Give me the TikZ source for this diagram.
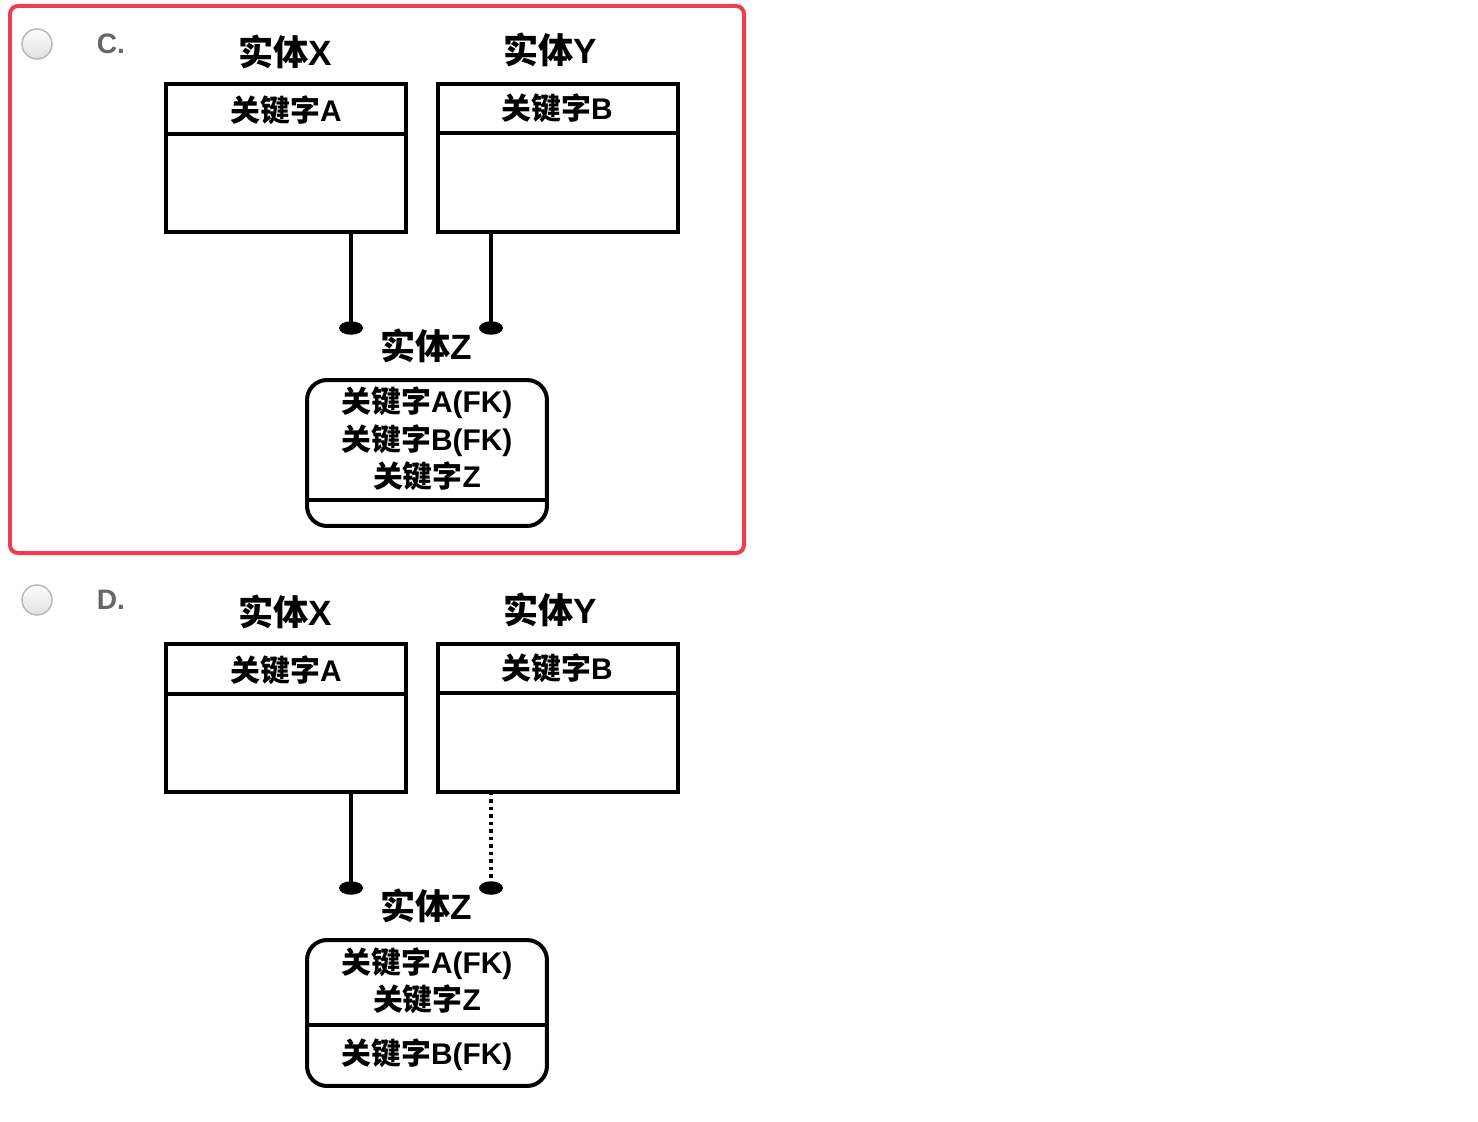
\documentclass[tikz,border=0pt]{standalone}
\usepackage{fontspec}
\setmainfont{Liberation Sans}
\newfontfamily\cjk{Noto Sans CJK SC}
\usetikzlibrary{shapes.geometric}
\definecolor{optred}{RGB}{238,62,78}
\definecolor{optgray}{RGB}{102,102,102}

\begin{document}
\begin{tikzpicture}[x=0.02cm,y=-0.02cm,inner sep=0pt,outer sep=0pt,line width=0.08cm,
entbox/.style={draw,rectangle,minimum width=4.8cm,minimum height=2.96cm},
depbox/.style={draw,rectangle,rounded corners=0.4cm,minimum width=4.8cm,minimum height=2.92cm},
enttitle/.style={font=\bfseries\fontsize{20}{22}\selectfont},
keytext/.style={font=\bfseries\fontsize{17}{19}\selectfont},
ztext/.style={font=\bfseries\fontsize{17}{21.3}\selectfont,align=center},
dotend/.style={fill,ellipse,minimum width=0.48cm,minimum height=0.27cm},
radio/.style={circle,draw=gray!55,line width=0.03cm,top color=white,bottom color=gray!25,minimum size=0.6cm},
optlabel/.style={font=\bfseries\fontsize{16}{18}\selectfont,text=optgray}]

\useasboundingbox (0,0) rectangle (1478,1122);

% option C (selected)
\draw[optred,line width=0.08cm,rounded corners=0.16cm] (10,6) rectangle (744,553);
\draw (37,44) node[radio] (rc) {};
\draw (111,44) node[optlabel] (lc) {C.};

\draw (286,158) node[entbox] (xc) {};
\draw (285,52) node[enttitle] (txc) {{\cjk 实体}X};
\draw (286,110) node[keytext] (kxc) {{\cjk 关键字}A};
\draw (xc.west |- 0,134) -- (xc.east |- 0,134);

\draw (558,158) node[entbox] (yc) {};
\draw (550,50) node[enttitle] (tyc) {{\cjk 实体}Y};
\draw (557,108) node[keytext] (kyc) {{\cjk 关键字}B};
\draw (yc.west |- 0,133) -- (yc.east |- 0,133);

\draw (427,453) node[depbox] (zc) {};
\draw (426,346) node[enttitle] (tzc) {{\cjk 实体}Z};
\draw (427,439) node[ztext] (kzc) {{\cjk 关键字}A(FK)\\{\cjk 关键字}B(FK)\\{\cjk 关键字}Z};
\draw (zc.west |- 0,500) -- (zc.east |- 0,500);

\draw (351,328) node[dotend] (dxc) {};
\draw (491,328) node[dotend] (dyc) {};
\draw (xc.south -| dxc) -- (dxc.center);
\draw (yc.south -| dyc) -- (dyc.center);

% option D
\draw (37,600) node[radio] (rd) {};
\draw (111,600) node[optlabel] (ld) {D.};

\draw (286,718) node[entbox] (xd) {};
\draw (285,612) node[enttitle] (txd) {{\cjk 实体}X};
\draw (286,670) node[keytext] (kxd) {{\cjk 关键字}A};
\draw (xd.west |- 0,694) -- (xd.east |- 0,694);

\draw (558,718) node[entbox] (yd) {};
\draw (550,610) node[enttitle] (tyd) {{\cjk 实体}Y};
\draw (557,668) node[keytext] (kyd) {{\cjk 关键字}B};
\draw (yd.west |- 0,693) -- (yd.east |- 0,693);

\draw (427,1013) node[depbox] (zd) {};
\draw (426,906) node[enttitle] (tzd) {{\cjk 实体}Z};
\draw (427,980.5) node[ztext] (kzd) {{\cjk 关键字}A(FK)\\{\cjk 关键字}Z};
\draw (427,1055) node[ztext] (bzd) {{\cjk 关键字}B(FK)};
\draw (zd.west |- 0,1025) -- (zd.east |- 0,1025);

\draw (351,888) node[dotend] (dxd) {};
\draw (491,888) node[dotend] (dyd) {};
\draw (xd.south -| dxd) -- (dxd.center);
\draw[line width=0.07cm,dash pattern=on 0.07cm off 0.08cm] (yd.south -| dyd) -- (dyd.center);
\end{tikzpicture}
\end{document}
